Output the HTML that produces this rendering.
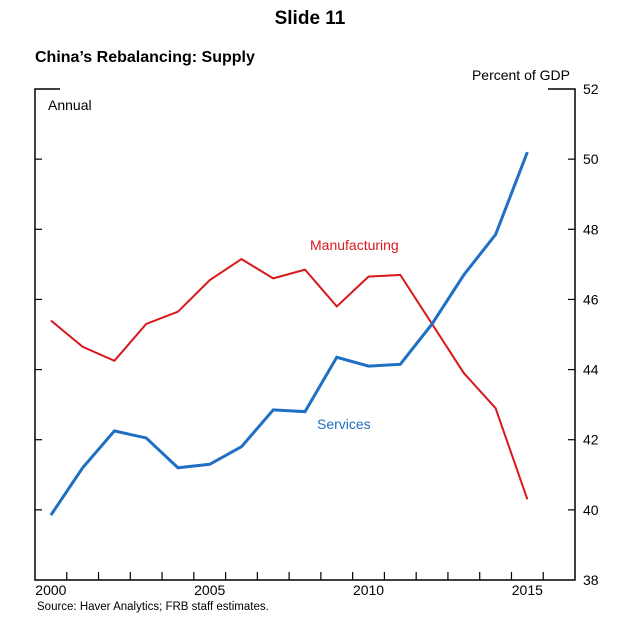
<!DOCTYPE html>
<html><head><meta charset="utf-8"><style>
body{margin:0;background:#fff;width:621px;height:628px;overflow:hidden;font-family:"Liberation Sans",sans-serif}
</style></head><body>
<svg width="621" height="628" font-family="Liberation Sans, sans-serif">
<text x="310" y="24" text-anchor="middle" font-size="19" font-weight="bold">Slide 11</text>
<text x="35" y="62" font-size="16" font-weight="bold">China’s Rebalancing: Supply</text>
<text x="570" y="80" text-anchor="end" font-size="14">Percent of GDP</text>
<text x="48" y="110" font-size="14">Annual</text>
<g id="frame"></g>
<g id="yt"></g>
<g id="xt"></g>
<g id="series"></g>
<text x="310" y="250" font-size="14" fill="#d7191c">Manufacturing</text>
<text x="317" y="429" font-size="14" fill="#1f6fc4">Services</text>
<text x="37" y="610" font-size="11.5">Source: Haver Analytics; FRB staff estimates.</text>
</svg>
<script>
const years=[2000,2001,2002,2003,2004,2005,2006,2007,2008,2009,2010,2011,2012,2013,2014,2015];
const manufacturing=[45.4,44.65,44.25,45.3,45.65,46.55,47.15,46.6,46.85,45.8,46.65,46.7,45.3,43.9,42.9,40.3];
const services=[39.85,41.2,42.25,42.05,41.2,41.3,41.8,42.85,42.8,44.35,44.1,44.15,45.3,46.7,47.85,50.2];
const yTicks=[38,40,42,44,46,48,50,52];
const xLabels=[2000,2005,2010,2015];
const NS="http://www.w3.org/2000/svg";
const L=35,R=575,T=89,B=580,x0=2000,x1=2017,ymin=38,ymax=52;
const X=v=>L+(v+0.5-x0)/(x1-x0)*(R-L);
const Y=v=>B-(v-ymin)/(ymax-ymin)*(B-T);
function mk(t,a,p){const e=document.createElementNS(NS,t);for(const k in a)e.setAttribute(k,a[k]);p.appendChild(e);return e;}
const fr=document.getElementById('frame');
const fp=mk('path',{d:`M${L+25},${T}H${L}V${B}H${R}V${T}H${R-27}`,fill:'none',stroke:'#000','stroke-width':1.5},fr);


const yt=document.getElementById('yt');
yTicks.forEach(v=>{
  const t=mk('text',{x:583,y:Y(v)+5,'font-size':14},yt);t.textContent=v;
  
  
  if(v>ymin&&v<ymax){
    const a=mk('line',{x1:L,x2:L+7,y1:Y(v),y2:Y(v),stroke:'#000','stroke-width':1.2},yt);
    
    
    const b=mk('line',{x1:R-7,x2:R,y1:Y(v),y2:Y(v),stroke:'#000','stroke-width':1.2},yt);
    
    
  }
});
const xt=document.getElementById('xt');
for(let yr=x0+1;yr<x1;yr++){
  const px=L+(yr-x0)/(x1-x0)*(R-L);
  const l=mk('line',{x1:px,x2:px,y1:B,y2:B-8,stroke:'#000','stroke-width':1.2},xt);
  
  
}
xLabels.forEach(v=>{
  const t=mk('text',{x:X(v),y:B+15,'font-size':14,'text-anchor':'middle'},xt);t.textContent=v;
  
  
});
const s=document.getElementById('series');
const pm=mk('polyline',{points:years.map((y,i)=>X(y)+','+Y(manufacturing[i])).join(' '),fill:'none',stroke:'#d7191c','stroke-width':2},s);


const ps=mk('polyline',{points:years.map((y,i)=>X(y)+','+Y(services[i])).join(' '),fill:'none',stroke:'#1f6fc4','stroke-width':3},s);


</script>
</body></html>
